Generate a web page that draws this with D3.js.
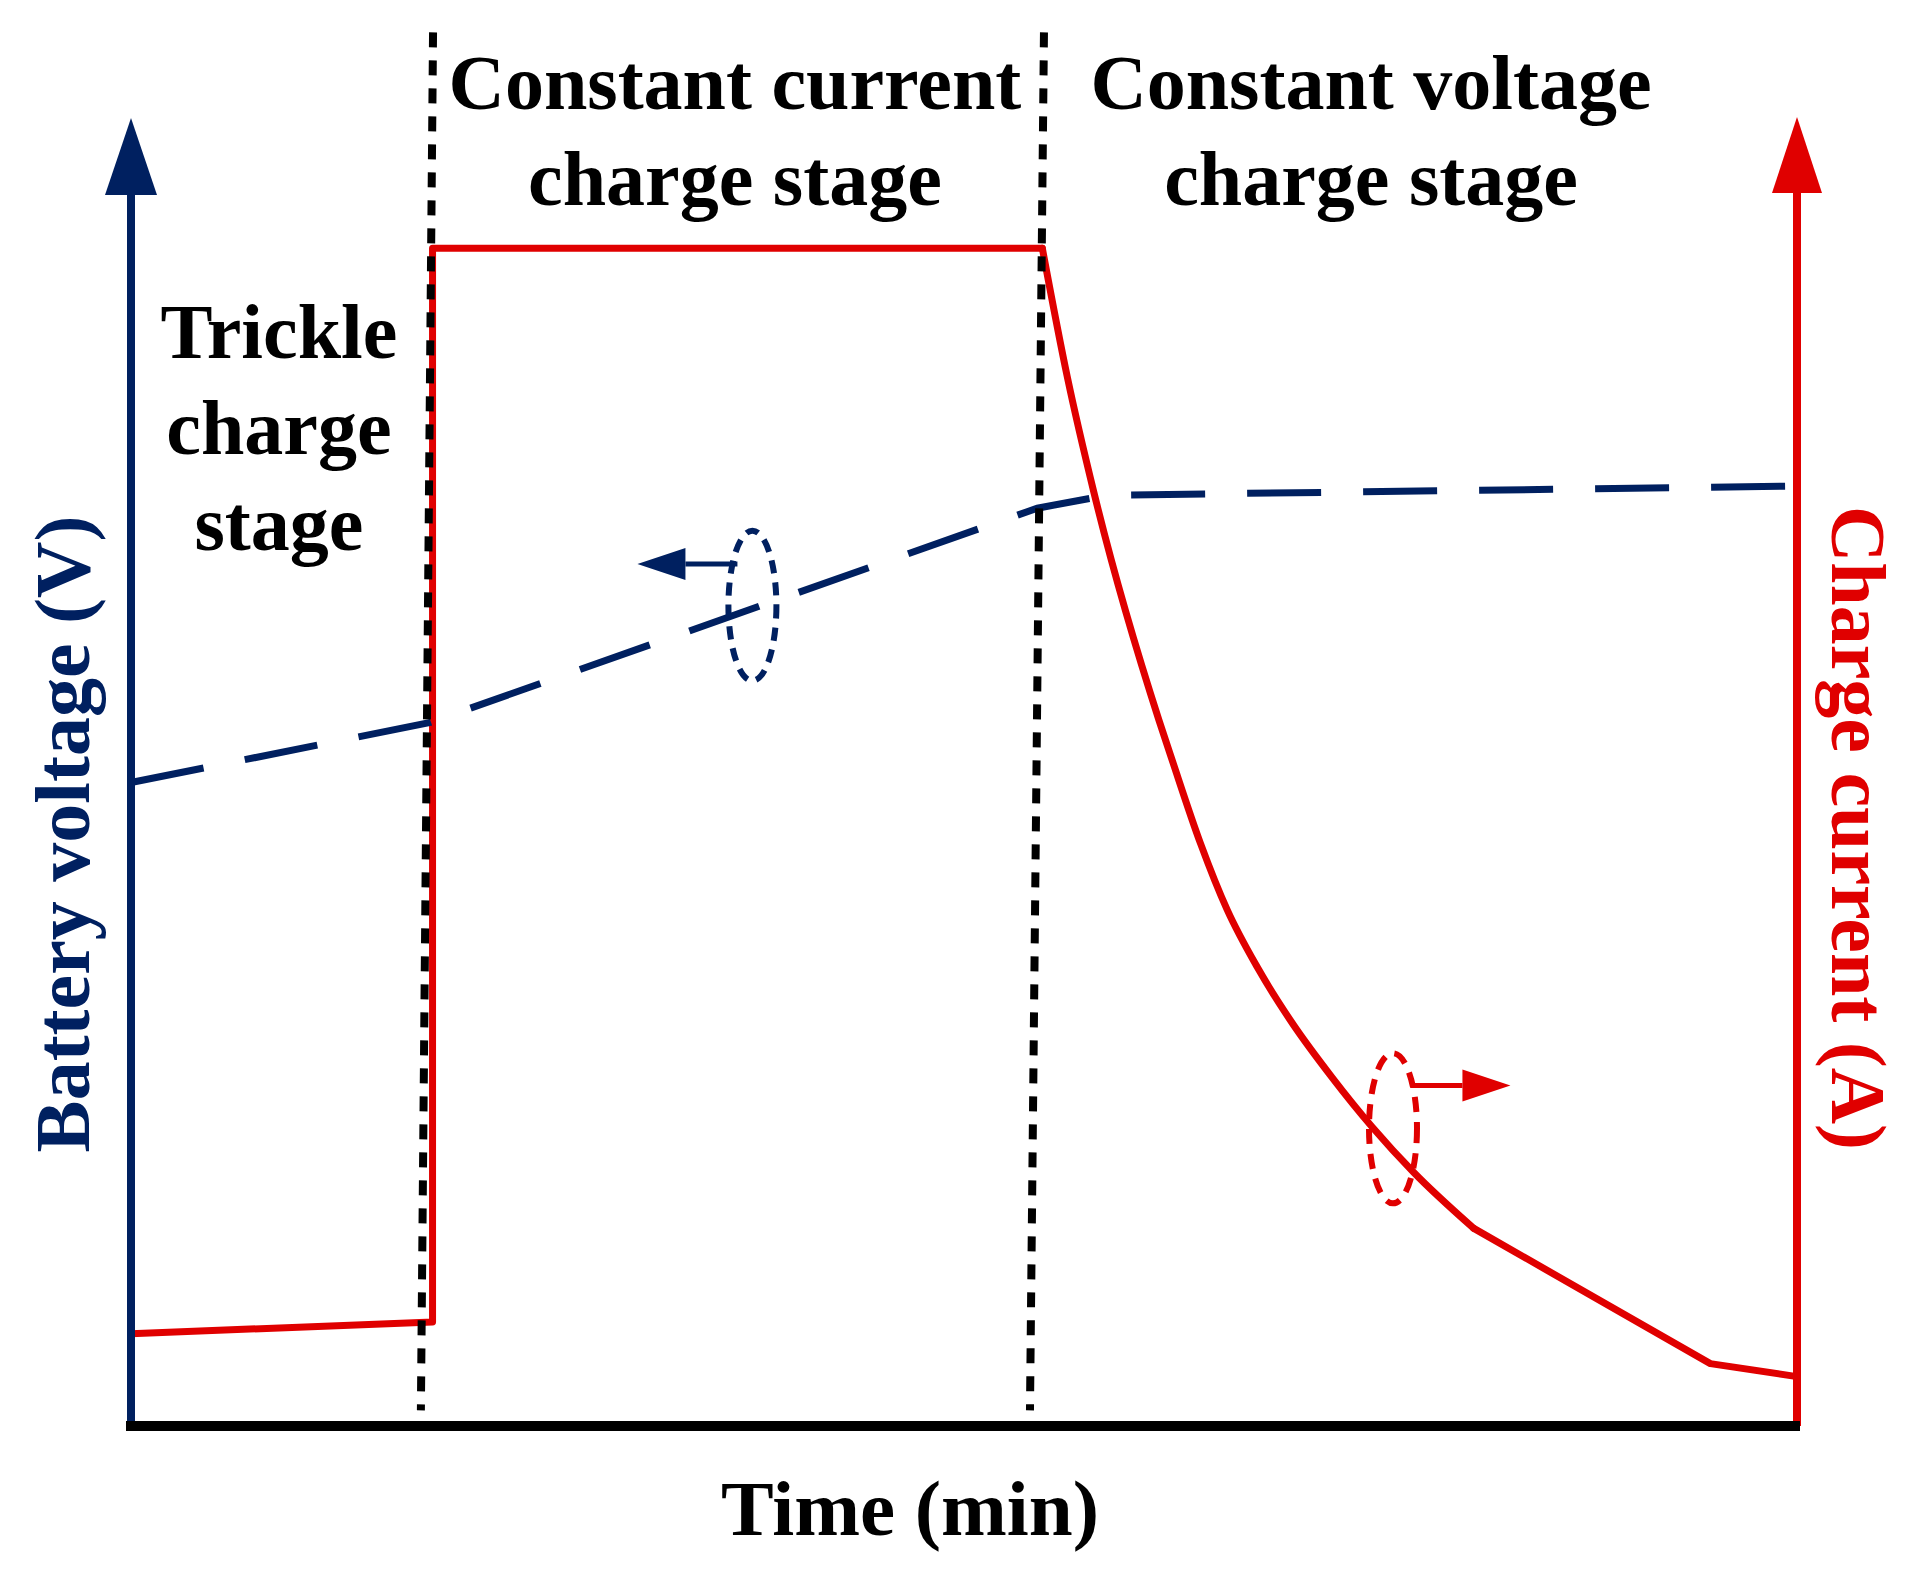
<!DOCTYPE html>
<html>
<head>
<meta charset="utf-8">
<script src="https://cdn.jsdelivr.net/npm/d3@7"></script>
<style>
  body { margin: 0; background: #fff; }
  text { font-family: "Liberation Serif", "Times New Roman", serif; font-weight: bold; }
</style>
</head>
<body>
<div id="chart"></div>
<script>
const w = 1910;
const h = 1577;

// charge current (red, right axis), arbitrary units
const currentTime = [0, 18.1, 18.1, 54.7, 56.2, 57.8, 61.7, 62.5, 64.2, 65.8, 67.6, 69.7, 72.1, 74.5, 77.0, 80.6, 94.8, 100];
const currentVal  = [7.1, 8.0, 90.6, 90.6, 80.7, 71.8, 54.3, 51.2, 44.8, 39.7, 35.3, 31.0, 26.8, 23.0, 19.5, 15.2, 4.8, 3.8];

// battery voltage (blue dashed, left axis)
const voltageTime = [0, 17.9, 54.4, 58.6, 100];
const voltageVal  = [49.5, 54.1, 70.6, 71.6, 72.3];

// stage boundaries (dotted lines): time at top / bottom
const boundTop    = [18.13, 54.8];
const boundBottom = [17.4, 53.96];

const stageLabels = [
  { lines: ['Constant current', 'charge stage'], t: 36.25 },
  { lines: ['Constant voltage', 'charge stage'], t: 74.43 },
  { lines: ['Trickle', 'charge', 'stage'], t: 8.88 }
];

const xLabel = 'Time (min)';
const yLeftLabel = 'Battery voltage (V)';
const yRightLabel = 'Charge current (A)';

const blue = '#002060';
const red = '#e00000';

const xScale = d3.scaleLinear().domain([0, 100]).range([131, 1797]);
const yScale = d3.scaleLinear().domain([0, 100]).range([1426, 126]);

const svg = d3.select('#chart')
  .append('svg')
  .attr('width', w)
  .attr('height', h);

const line = d3.line()
  .x((d) => xScale(d[0]))
  .y((d) => yScale(d[1]));

const smooth = d3.line()
  .curve(d3.curveMonotoneX)
  .x((d) => xScale(d[0]))
  .y((d) => yScale(d[1]));

// current curve: step part, smooth decay, straight tail
const cur = currentTime.map((t, i) => [t, currentVal[i]]);
[[cur.slice(0, 4), line], [cur.slice(3, 16), smooth], [cur.slice(15), line]].forEach(([pts, gen]) => {
  svg.append('path')
    .datum(pts)
    .attr('fill', 'none')
    .attr('stroke', red)
    .attr('stroke-width', 7)
    .attr('stroke-linejoin', 'round')
    .attr('stroke-linecap', 'round')
    .attr('d', gen);
});

// voltage curve
svg.append('path')
  .datum(voltageTime.map((t, i) => [t, voltageVal[i]]))
  .attr('fill', 'none')
  .attr('stroke', blue)
  .attr('stroke-width', 7)
  .attr('stroke-dasharray', '74 42')
  .attr('d', line);

// dotted stage boundaries
boundTop.forEach((t, i) => {
  svg.append('path')
    .datum([[t, 107.2], [boundBottom[i], 1.2]])
    .attr('fill', 'none')
    .attr('stroke', '#000')
    .attr('stroke-width', 8)
    .attr('stroke-dasharray', '15 13')
    .attr('d', line);
});

// axes
svg.append('line')
  .attr('x1', xScale(0)).attr('x2', xScale(0))
  .attr('y1', yScale(0) + 4).attr('y2', 195)
  .attr('stroke', blue).attr('stroke-width', 8);
svg.append('path')
  .attr('d', `M${xScale(0)},118 L${xScale(0) - 26},195 L${xScale(0) + 26},195 Z`)
  .attr('fill', blue);

svg.append('line')
  .attr('x1', xScale(100)).attr('x2', xScale(100))
  .attr('y1', yScale(0)).attr('y2', 193)
  .attr('stroke', red).attr('stroke-width', 8);
svg.append('path')
  .attr('d', `M${xScale(100)},117 L${xScale(100) - 25},193 L${xScale(100) + 25},193 Z`)
  .attr('fill', red);

svg.append('line')
  .attr('x1', xScale(0) - 5).attr('x2', xScale(100) + 3)
  .attr('y1', yScale(0)).attr('y2', yScale(0))
  .attr('stroke', '#000').attr('stroke-width', 10);

// ellipse markers with arrows
function marker(cx, cy, color, dash, ax0, ax1, ay) {
  svg.append('ellipse')
    .attr('cx', xScale(cx)).attr('cy', yScale(cy))
    .attr('rx', 24).attr('ry', 75)
    .attr('fill', 'none')
    .attr('stroke', color)
    .attr('stroke-width', 6)
    .attr('stroke-dasharray', dash);
  const dir = ax1 > ax0 ? 1 : -1;
  const tipX = xScale(ax1);
  const baseX = tipX - dir * 48;
  svg.append('line')
    .attr('x1', xScale(ax0)).attr('x2', baseX)
    .attr('y1', yScale(ay)).attr('y2', yScale(ay))
    .attr('stroke', color).attr('stroke-width', 5);
  svg.append('path')
    .attr('d', `M${tipX},${yScale(ay)} L${baseX},${yScale(ay) - 16} L${baseX},${yScale(ay) + 16} Z`)
    .attr('fill', color);
}
marker(37.3, 63.1, blue, '13 9', 36.4, 30.4, 66.3);
marker(75.75, 22.9, red, '15 10', 76.8, 82.8, 26.2);

// stage labels
stageLabels.forEach((s, k) => {
  const top = k < 2 ? 109 : 358;
  s.lines.forEach((txt, j) => {
    svg.append('text')
      .attr('x', xScale(s.t))
      .attr('y', top + j * 96)
      .attr('text-anchor', 'middle')
      .style('font-size', '78px')
      .attr('fill', '#000')
      .text(txt);
  });
});

// axis labels
svg.append('text')
  .attr('x', 910)
  .attr('y', 1535)
  .attr('text-anchor', 'middle')
  .style('font-size', '79px')
  .text(xLabel);

svg.append('text')
  .attr('text-anchor', 'middle')
  .attr('transform', 'translate(89,834)rotate(-90)')
  .style('font-size', '78px')
  .attr('fill', blue)
  .text(yLeftLabel);

svg.append('text')
  .attr('text-anchor', 'middle')
  .attr('transform', 'translate(1832,828)rotate(90)')
  .style('font-size', '78px')
  .attr('fill', red)
  .text(yRightLabel);
</script>
</body>
</html>
